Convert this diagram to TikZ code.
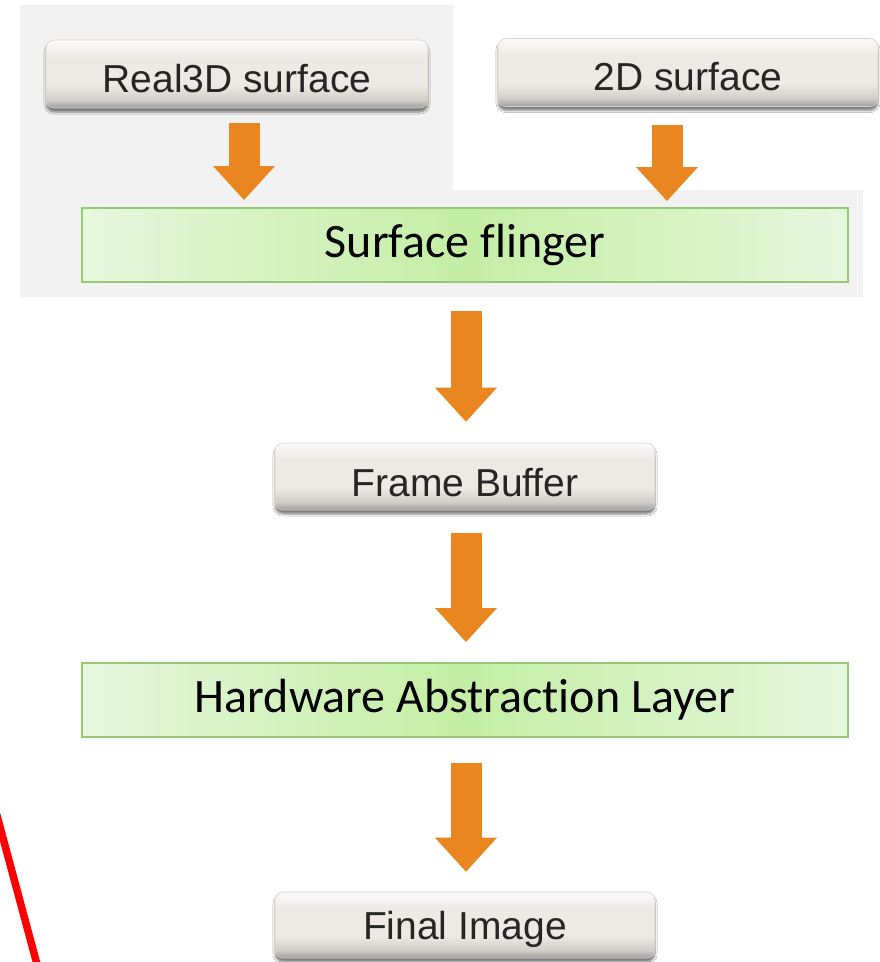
\documentclass[tikz,border=0pt]{standalone}
\usepackage{fontspec}
\setmainfont{Liberation Sans}
\newfontfamily\calfont[Ligatures={NoCommon}]{Carlito}
\usetikzlibrary{shadows.blur,calc,arrows.meta}
\definecolor{bgray}{HTML}{F2F2F2}
\definecolor{arrowc}{HTML}{E9861F}
\definecolor{btnbot}{HTML}{9E9C9A}
\definecolor{btnlow}{HTML}{D2CECA}
\definecolor{btnmid}{HTML}{EDE9E5}
\definecolor{btntop}{HTML}{FCFBFA}
\definecolor{btnedge}{HTML}{D6D2CE}
\definecolor{gedge}{HTML}{E6F7DD}
\definecolor{gmid}{HTML}{C3EEA4}
\definecolor{gborder}{HTML}{95C974}
\definecolor{txtdark}{HTML}{262626}
\pgfdeclareverticalshading{btnshade}{100bp}{color(0bp)=(btnbot); color(25bp)=(btnbot); color(31bp)=(btnlow); color(42bp)=(btnmid); color(62bp)=(btnmid); color(75bp)=(btntop); color(100bp)=(btntop)}
\pgfdeclarehorizontalshading{greenshade}{100bp}{color(0bp)=(gedge); color(25bp)=(gedge); color(50bp)=(gmid); color(75bp)=(gedge); color(100bp)=(gedge)}
\tikzset{
  btn/.style={rounded corners=8pt, shading=btnshade, draw=btnedge, line width=0.6pt,
    blur shadow={shadow xshift=0pt, shadow yshift=-4pt, shadow opacity=50, shadow blur steps=6},
    minimum height=68pt, text=txtdark, font=\fontsize{39}{39}\selectfont, inner sep=0pt,
    text depth=0pt},
  greenbox/.style={shading=greenshade, draw=gborder, line width=2pt, minimum width=766pt,
    minimum height=74pt, font=\calfont\fontsize{48}{48}\selectfont, inner sep=0pt},
  bigarrow/.style={draw=arrowc, line width=31pt, line cap=butt,
    -{Triangle[width=62pt,length=34pt,line width=0pt,fill=arrowc]}}
}
\begin{document}
\begin{tikzpicture}[x=1pt,y=-1pt]
\path[use as bounding box] (0,0) rectangle (880,962);
\fill[white] (0,0) rectangle (880,962);
% gray background region
\fill[bgray] (20,5) -- (453,5) -- (453,190) -- (863,190) -- (863,297) -- (20,297) -- cycle;
% nodes
\node[btn, minimum width=382pt, text height=36pt] (r3d) at (237,74) {Real3D surface};
\node[btn, minimum width=380pt, text height=35pt] (s2d) at (688,72.5) {2D surface};
\node[greenbox] (sf) at (465,245) {Surface flinger};
\node[btn, minimum width=380pt, minimum height=67pt, text height=39pt] (fb) at (465,476.5) {Frame Buffer};
\node[greenbox] (hal) at (465,700) {Hardware Abstraction Layer};
\node[btn, minimum width=380pt, minimum height=66pt, text height=28pt] (fi) at (465,925) {Final Image};
% arrows
\draw[bigarrow, shorten <=15pt, shorten >=7pt] ([xshift=7pt]r3d.south) -- ([xshift=7pt]r3d.south |- sf.north);
\draw[bigarrow, shorten <=18pt, shorten >=6pt] ([xshift=-21pt]s2d.south) -- ([xshift=-21pt]s2d.south |- sf.north);
\draw[bigarrow, shorten <=28pt, shorten >=21pt] ([xshift=1pt]sf.south) -- ([xshift=1pt]sf.south |- fb.north);
\draw[bigarrow, shorten <=23pt, shorten >=20pt] ([xshift=1pt]fb.south) -- ([xshift=1pt]fb.south |- hal.north);
\draw[bigarrow, shorten <=25pt, shorten >=20pt] ([xshift=1pt]hal.south) -- ([xshift=1pt]hal.south |- fi.north);
% red stroke
\begin{scope}
\clip (0,0) rectangle (880,962);
\coordinate (rA) at (-4,812);
\coordinate (rB) at (38,968);
\draw[red, line width=7.5pt] (rA) -- (rB);
\end{scope}
\end{tikzpicture}
\end{document}
